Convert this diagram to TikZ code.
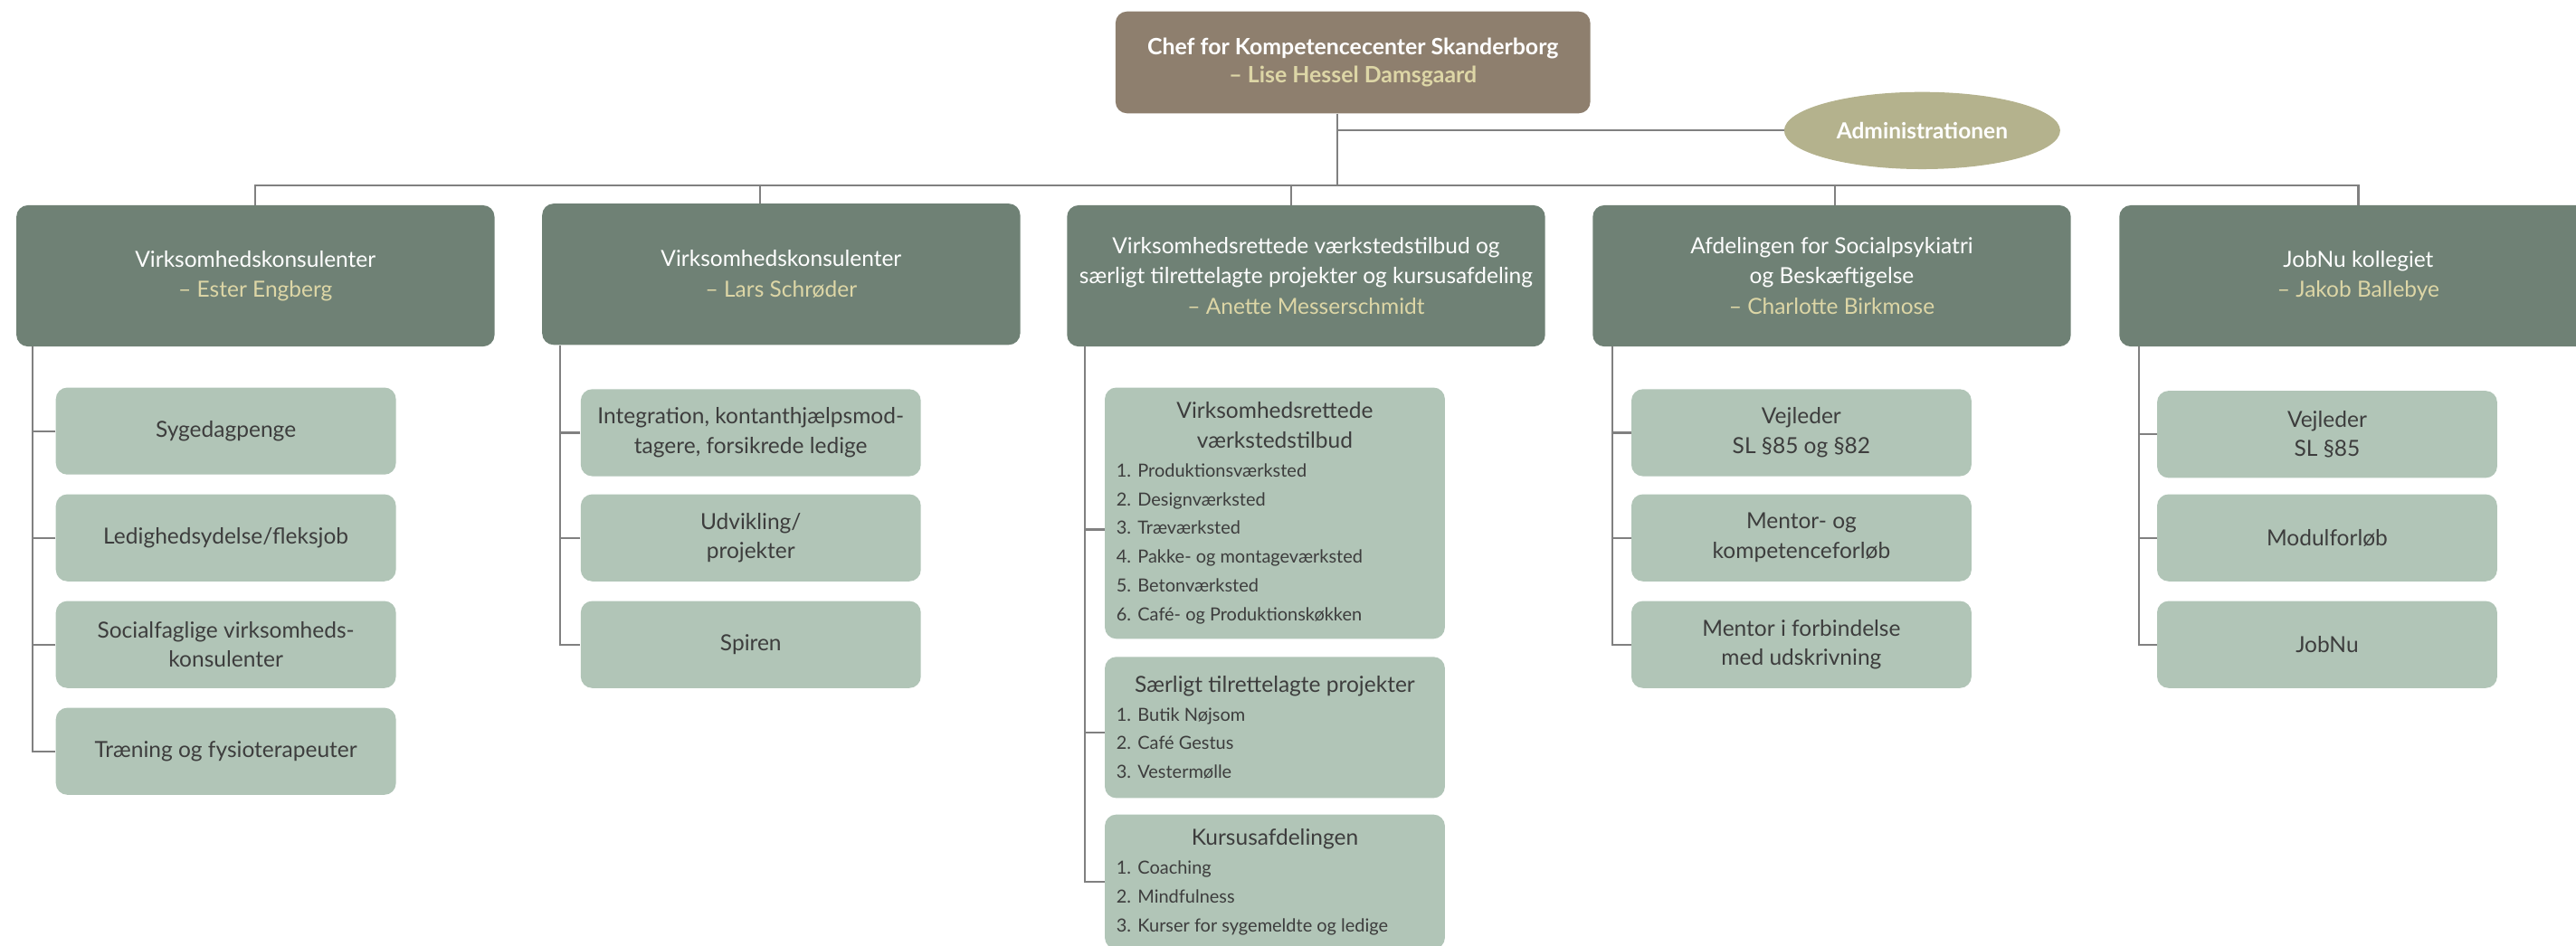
\documentclass[tikz,border=0pt]{standalone}
\usepackage{fontspec}
\setmainfont{Lato}
\usetikzlibrary{shapes.geometric}
\definecolor{chefbrown}{HTML}{8E7F6E}
\definecolor{headgreen}{HTML}{6F8175}
\definecolor{subgreen}{HTML}{B1C5B7}
\definecolor{adminkhaki}{HTML}{B4B28D}
\definecolor{namecol}{HTML}{DDD6A6}
\definecolor{linegrey}{HTML}{808080}
\definecolor{textgrey}{HTML}{3D3D3D}
\newcommand{\leader}[1]{{\color{namecol}– #1}}
\newcommand{\natspace}{\spaceskip=0pt\xspaceskip=0pt\relax}
\newcommand{\numitem}[2]{\makebox[13pt][l]{#1.}#2\hspace*{\fill}\par}
\tikzset{
  conn/.style={draw=linegrey, line width=1.2pt},
  chefbox/.style={rectangle, rounded corners=7pt, fill=chefbrown, text=white, minimum width=289pt, minimum height=62pt, inner sep=0pt, align=center, font=\bfseries\fontsize{13.7}{17}\selectfont},
  adminell/.style={ellipse, fill=adminkhaki, text=white, minimum width=168pt, minimum height=47pt, inner sep=0pt, font=\bfseries\fontsize{13.5}{16}\selectfont},
  headbox/.style={rectangle, rounded corners=7pt, fill=headgreen, text=white, minimum width=291pt, minimum height=86pt, inner sep=0pt, align=center, font=\fontsize{13.5}{18.5}\selectfont},
  subbox/.style={rectangle, rounded corners=7pt, fill=subgreen, text=textgrey, minimum width=207pt, minimum height=53pt, inner sep=0pt, align=center, font=\fontsize{13.5}{18}\selectfont},
  listbox/.style={subbox, text width=193pt, align=left}
}
\begin{document}
\begin{tikzpicture}[x=1pt, y=-1pt]
\useasboundingbox (0,0) rectangle (1568,576);
\clip (0,0) rectangle (1568,576);
\node[chefbox] (chef) at (823.5,38) {Chef for Kompetencecenter Skanderborg\\\leader{Lise Hessel Damsgaard}};
\node[adminell] (admin) at (1170,79.5) {Administrationen};
\coordinate (busy) at (0,113);
\node[headbox] (ester) at (155.5,168) {Virksomhedskonsulenter\\\leader{Ester Engberg}};
\node[headbox] (lars) at (475.5,167) {Virksomhedskonsulenter\\\leader{Lars Schrøder}};
\node[headbox] (anette) at (795,168) {Virksomhedsrettede værkstedstilbud og\\særligt tilrettelagte projekter og kursusafdeling\\\leader{Anette Messerschmidt}};
\node[headbox] (charlotte) at (1115,168) {Afdelingen for Socialpsykiatri\\og Beskæftigelse\\\leader{Charlotte Birkmose}};
\node[headbox] (jakob) at (1435.5,168) {JobNu kollegiet\\\leader{Jakob Ballebye}};
\node[subbox] (syg) at (137.5,262.5) {Sygedagpenge};
\node[subbox] (ledig) at (137.5,327.5) {Ledighedsydelse/fleksjob};
\node[subbox] (social) at (137.5,392.5) {Socialfaglige virksomheds-\\konsulenter};
\node[subbox] (trae) at (137.5,457.5) {Træning og fysioterapeuter};
\node[subbox] (integ) at (457,263.5) {Integration, kontanthjælpsmod-\\tagere, forsikrede ledige};
\node[subbox] (udv) at (457,327.5) {Udvikling/\\projekter};
\node[subbox] (spiren) at (457,392.5) {Spiren};
\node[listbox, minimum height=153pt] (vaerk) at (776,312.5) {\natspace{\centering Virksomhedsrettede\\værkstedstilbud\par}\fontsize{11}{17.6}\selectfont\natspace
  \numitem{1}{Produktionsværksted}\numitem{2}{Designværksted}\numitem{3}{Træværksted}
  \numitem{4}{Pakke- og montageværksted}\numitem{5}{Betonværksted}\numitem{6}{Café- og Produktionskøkken}};
\node[listbox, minimum height=86pt] (saerlig) at (776,443) {\natspace{\centering Særligt tilrettelagte projekter\par}\fontsize{11}{17.6}\selectfont\natspace
  \numitem{1}{Butik Nøjsom}\numitem{2}{Café Gestus}\numitem{3}{Vestermølle}};
\node[listbox, minimum height=82pt] (kursus) at (776,537) {\natspace{\centering Kursusafdelingen\par}\fontsize{11}{17.6}\selectfont\natspace
  \numitem{1}{Coaching}\numitem{2}{Mindfulness}\numitem{3}{Kurser for sygemeldte og ledige}};
\node[subbox] (vejl) at (1096.5,263.5) {Vejleder\\SL §85 og §82};
\node[subbox] (mentor) at (1096.5,327.5) {Mentor- og\\kompetenceforløb};
\node[subbox] (udskr) at (1096.5,392.5) {Mentor i forbindelse\\med udskrivning};
\node[subbox] (vejljob) at (1416.5,264.5) {Vejleder\\SL §85};
\node[subbox] (modul) at (1416.5,327.5) {Modulforløb};
\node[subbox] (jobnu) at (1416.5,392.5) {JobNu};
\coordinate (top) at ([xshift=-9.5pt]chef.south);
\draw[conn] (top) -- (top |- busy);
\draw[conn] (admin) -- (admin -| top);
\draw[conn] (ester.north) |- (top |- busy) -| (jakob.north);
\foreach \n/\dx in {lars/-13,anette/-9,charlotte/2} \draw[conn] ([xshift=\dx pt]\n.north) -- ([xshift=\dx pt]\n.north |- busy);
\coordinate (s1) at ([xshift=10pt]ester.south west); \coordinate (s2) at ([xshift=11pt]lars.south west);
\coordinate (s3) at ([xshift=11pt]anette.south west); \coordinate (s4) at ([xshift=12pt]charlotte.south west);
\coordinate (s5) at ([xshift=12pt]jakob.south west);
\draw[conn] (s1) |- (trae.west); \draw[conn] (s2) |- (spiren.west); \draw[conn] (s3) |- (kursus.west);
\draw[conn] (s4) |- (udskr.west); \draw[conn] (s5) |- (jobnu.west);
\foreach \n in {syg,ledig,social} \draw[conn] (\n.west) -- (\n.west -| s1);
\foreach \n in {integ,udv} \draw[conn] (\n.west) -- (\n.west -| s2);
\foreach \n/\dy in {vaerk/-10,saerlig/-3} \draw[conn] ([yshift=\dy pt]\n.west) -- ([yshift=\dy pt]\n.west -| s3);
\foreach \n in {vejl,mentor} \draw[conn] (\n.west) -- (\n.west -| s4);
\foreach \n in {vejljob,modul} \draw[conn] (\n.west) -- (\n.west -| s5);
\end{tikzpicture}
\end{document}
